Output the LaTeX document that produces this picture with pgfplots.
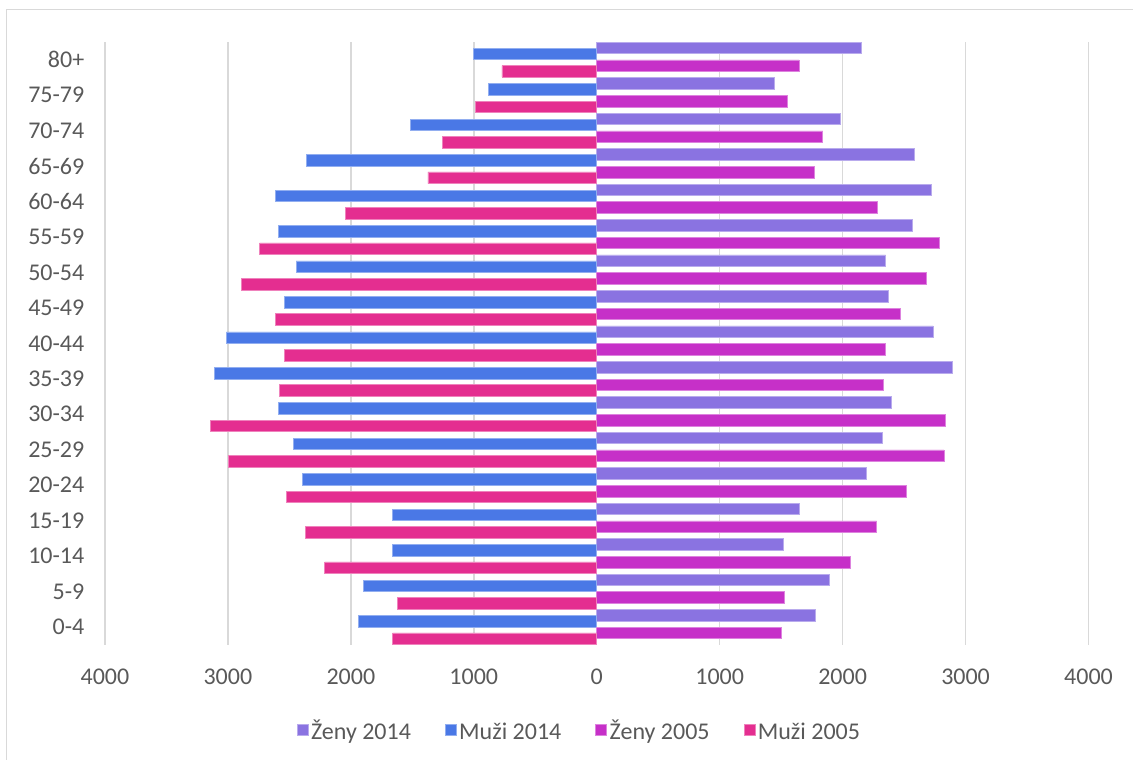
\documentclass[border=0pt]{standalone}
\usepackage{fontspec}
\setmainfont{Carlito}
\usepackage{pgfplots}
\usepackage{pgfplotstable}
\pgfplotsset{compat=1.18}

\definecolor{zeny14}{RGB}{138,115,225}
\definecolor{muzi14}{RGB}{74,120,230}
\definecolor{zeny05}{RGB}{198,48,200}
\definecolor{muzi05}{RGB}{228,46,144}
\definecolor{gridgray}{RGB}{217,217,217}
\definecolor{textgray}{RGB}{89,89,89}

% idx: 0 = 0-4 ... 16 = 80+ ; men as negative values
\pgfplotstableread{
idx zeny14 muzi14 zeny05 muzi05
0  1779 -1940 1501 -1661
1  1888 -1900 1528 -1623
2  1514 -1661 2066 -2214
3  1650 -1661 2277 -2372
4  2196 -2391 2521 -2524
5  2323 -2467 2824 -2993
6  2394 -2592 2835 -3140
7  2889 -3113 2334 -2578
8  2737 -3012 2345 -2537
9  2369 -2537 2472 -2613
10 2350 -2445 2678 -2890
11 2564 -2586 2783 -2741
12 2724 -2611 2283 -2043
13 2586 -2364 1771 -1373
14 1985 -1517 1839 -1254
15 1444 -882  1552 -990
16 2153 -1004 1647 -771
}\pyramid

\begin{document}
\begin{tikzpicture}
\path (0,0) rectangle (849.75pt,570pt);
\draw[gridgray, line width=0.75pt] (5.25pt,0pt) -- (5.25pt,562.5pt) -- (849.75pt,562.5pt);

\begin{axis}[
at={(78.75pt,86.25pt)}, anchor=south west,
scale only axis,
width=738pt, height=452.25pt,
xmin=-4000, xmax=4000,
ymin=-0.5, ymax=16.5,
axis line style={draw=none},
major tick length=0pt,
xtick={-4000,-3000,...,4000},
xticklabels={4000,3000,2000,1000,0,1000,2000,3000,4000},
ytick={0,...,16},
yticklabels={0-4,5-9,10-14,15-19,20-24,25-29,30-34,35-39,40-44,45-49,50-54,55-59,60-64,65-69,70-74,75-79,80+},
xmajorgrids,
x grid style={gridgray, line width=1.1pt},
tick label style={font=\fontsize{18}{22}\selectfont, text=textgray},
xticklabel style={yshift=-15pt},
yticklabel style={xshift=-12pt},
xbar, bar width=0.327,
legend style={
  at={(0.4827,-0.1415)}, anchor=center,
  draw=none, fill=none,
  font=\fontsize{18}{22}\selectfont, text=textgray,
  /tikz/every even column/.append style={column sep=23.5pt}
},
legend columns=4,
legend image code/.code={\fill[#1] (0pt,-4.1pt) rectangle (8.25pt,4.1pt);},
legend cell align={left}
]
\addplot[fill=zeny14, draw=zeny14!60!white, line width=0.5pt, bar shift=0.33] table[x=zeny14, y=idx] {\pyramid};
\addlegendentry{\strut Ženy 2014}
\addplot[fill=muzi14, draw=muzi14!60!white, line width=0.5pt, bar shift=0.16] table[x=muzi14, y=idx] {\pyramid};
\addlegendentry{\strut Muži 2014}
\addplot[fill=zeny05, draw=zeny05!60!white, line width=0.5pt, bar shift=-0.17] table[x=zeny05, y=idx] {\pyramid};
\addlegendentry{\strut Ženy 2005}
\addplot[fill=muzi05, draw=muzi05!60!white, line width=0.5pt, bar shift=-0.33] table[x=muzi05, y=idx] {\pyramid};
\addlegendentry{\strut Muži 2005}
\end{axis}
\end{tikzpicture}
\end{document}
